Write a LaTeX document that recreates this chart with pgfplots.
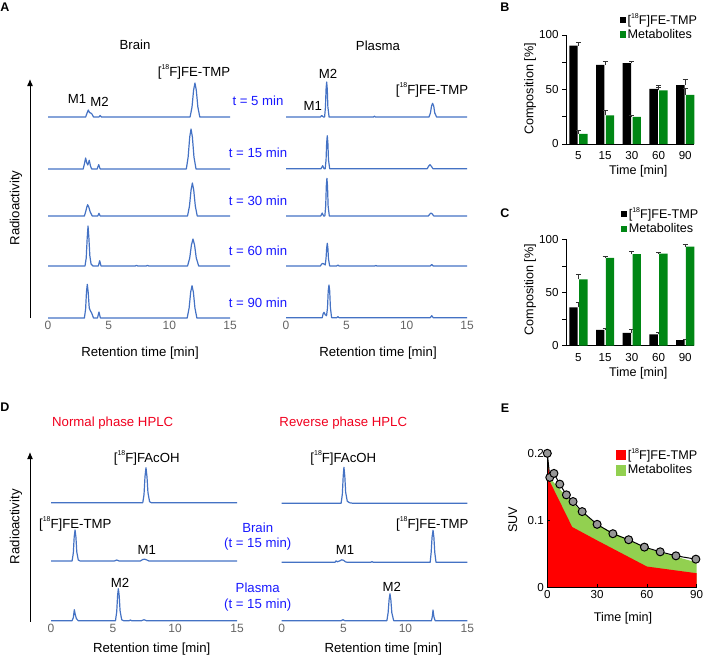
\documentclass[border=0pt]{standalone}
\usepackage{pgfplots}
\pgfplotsset{compat=1.18}
\usepackage{fontspec}
\setmainfont{Liberation Sans}
\usetikzlibrary{arrows.meta}
\definecolor{tb}{RGB}{68,114,196}
\definecolor{tgray}{RGB}{100,100,100}
\definecolor{lblue}{RGB}{25,25,255}
\definecolor{lred}{RGB}{240,0,30}
\definecolor{bgreen}{RGB}{0,135,20}
\definecolor{lgreen}{RGB}{146,208,80}
\definecolor{mgray}{RGB}{150,150,150}
\newcommand{\fs}{\fontsize{13.2}{15.8}\selectfont}
\newcommand{\fb}{\fontsize{12.6}{15}\selectfont}
\newcommand{\ft}{\fontsize{12}{14}\selectfont}
\newcommand{\fbt}{\fontsize{11.6}{14}\selectfont}
\newcommand{\F}{[\raisebox{0.5em}{\fontsize{7}{8}\selectfont 18}F]}
\pgfplotsset{
 every axis/.append style={/pgf/number format/assume math mode=true},
 trace/.style={anchor=south west, scale only axis, width=182pt, height=45pt, xmin=0, xmax=15, ymin=0, ymax=45, clip=false, hide axis},
 tracebot/.style={anchor=south west, scale only axis, width=182pt, height=45pt, xmin=0, xmax=15, ymin=0, ymax=45, clip=false, axis line style={draw=none}, ytick=\empty, xtick={0,5,10,15}, major tick length=0pt, tick label style={font=\ft, text=tgray}},
 tr/.style={tb, line width=1.2pt, line join=round},
 barax/.style={anchor=south west, scale only axis, width=128pt, xmin=-0.464, xmax=4.33, ymin=0, ymax=100,
   axis x line*=bottom, axis y line*=left, xtick={0,1,2,3,4}, xticklabels={5,15,30,60,90},
   ytick={0,50,100}, minor ytick={25,75}, tick align=outside, major tick length=4pt, minor tick length=4pt,
   x tick style={draw=none}, tick style={line width=0.8pt, black}, tick label style={font=\fbt}, clip=false, axis line style={line width=1pt},
   legend style={draw=none, fill=none, inner sep=0pt, font=\fb, cells={anchor=west}, row sep=-1pt, anchor=north west}},
 ebar/.style={error bars/.cd, y dir=plus, y explicit, error bar style={line width=0.8pt, black!80}, error mark options={rotate=90, mark size=2.5pt, line width=0.8pt, black!80}},
}
\begin{document}
\begin{tikzpicture}
\useasboundingbox (0,0) rectangle (708pt,-659pt);
% ---------------- Panel A ----------------
\node[font=\bfseries\fontsize{12.5}{14}\selectfont] at (5pt,-7pt) {A};
\node[font=\fs] at (135pt,-45pt) {Brain};
\node[font=\fs] at (378pt,-46pt) {Plasma};
\draw[line width=1pt,-{Latex[length=7pt,width=6pt]}] (30pt,-318pt) -- (30pt,-79pt);
\node[font=\fs, rotate=90] at (16pt,-208pt) {Radioactivity};
% brain traces
\begin{axis}[trace, at={(48pt,-117pt)}]
\addplot[tr] coordinates {(0,0)(3.1,0)(3.22,4)(3.32,7)(3.42,4.5)(3.52,4)(3.62,3)(3.75,0)(4.2,0)(4.3,1.5)(4.4,0)(11.71,0)(11.87,10)(12.0,27)(12.11,34)(12.22,27)(12.35,10)(12.51,0)(15,0)};
\end{axis}
\begin{axis}[trace, at={(48pt,-169pt)}]
\addplot[tr] coordinates {(0,0)(2.9,0)(3.0,5)(3.1,11)(3.2,6)(3.28,4)(3.4,8.7)(3.5,3)(3.6,0)(4.05,0)(4.18,4.4)(4.3,0)(11.4,0)(11.55,12)(11.68,32)(11.79,40)(11.9,32)(12.03,12)(12.2,0)(15,0)};
\end{axis}
\begin{axis}[trace, at={(48pt,-216pt)}]
\addplot[tr] coordinates {(0,0)(3.0,0)(3.12,5)(3.2,9)(3.27,11.3)(3.36,9)(3.48,4)(3.65,0)(4.1,0)(4.2,2.7)(4.3,0)(11.5,0)(11.66,10)(11.79,26)(11.9,33)(12.01,26)(12.14,10)(12.3,0)(15,0)};
\end{axis}
\begin{axis}[trace, at={(48pt,-266pt)}]
\addplot[tr] coordinates {(0,0)(3.05,0)(3.15,8)(3.23,28)(3.3,40)(3.37,28)(3.45,10)(3.55,2)(3.7,0)(4.15,0)(4.26,5.3)(4.37,0)(7.2,0)(7.3,0.7)(7.4,0)(8.1,0)(8.2,0.7)(8.3,0)(11.5,0)(11.68,8)(11.82,21)(11.95,27)(12.08,21)(12.22,8)(12.42,0)(15,0)};
\end{axis}
\begin{axis}[tracebot, at={(48pt,-318pt)}]
\addplot[tr] coordinates {(0,0)(3.0,0)(3.1,9)(3.17,26)(3.24,33.7)(3.31,26)(3.4,10)(3.5,7)(3.6,5)(3.75,0)(4.08,0)(4.2,6)(4.32,0)(11.47,0)(11.63,10)(11.76,26)(11.87,32.3)(11.98,26)(12.11,10)(12.27,0)(15,0)};
\end{axis}
% plasma traces
\begin{axis}[trace, width=181pt, at={(286pt,-117pt)}]
\addplot[tr] coordinates {(0,0)(2.85,0)(2.96,1.5)(3.1,0)(3.2,0)(3.27,10)(3.32,28)(3.37,35)(3.42,28)(3.47,10)(3.57,0)(7.25,0)(7.33,0.8)(7.41,0)(11.85,0)(11.97,4)(12.06,11)(12.15,13.7)(12.24,11)(12.33,4)(12.48,0)(15,0)};
\end{axis}
\begin{axis}[trace, width=181pt, at={(286pt,-168.7pt)}]
\addplot[tr] coordinates {(0,0)(2.9,0)(3.04,3)(3.15,0)(3.25,0)(3.32,9)(3.37,26)(3.42,33)(3.47,26)(3.52,9)(3.62,0)(11.7,0)(11.82,2.5)(11.93,4)(12.04,2.5)(12.18,0)(15,0)};
\end{axis}
\begin{axis}[trace, width=181pt, at={(286pt,-216pt)}]
\addplot[tr] coordinates {(0,0)(2.88,0)(3.0,3)(3.12,0)(3.22,0)(3.29,10)(3.34,30)(3.39,37.7)(3.44,30)(3.49,10)(3.59,0)(11.8,0)(11.92,2)(12.02,3)(12.12,2)(12.25,0)(15,0)};
\end{axis}
\begin{axis}[trace, width=181pt, at={(286pt,-266pt)}]
\addplot[tr] coordinates {(0,0)(2.85,0)(2.95,2)(3.05,2.5)(3.15,2)(3.25,1)(3.32,8)(3.37,18)(3.42,22.7)(3.47,18)(3.52,7)(3.62,0)(4.2,0)(4.3,1)(4.4,0)(7.35,0)(7.45,0.5)(7.55,0)(11.95,0)(12.08,1.5)(12.2,0)(15,0)};
\end{axis}
\begin{axis}[tracebot, width=181pt, at={(286pt,-317.7pt)}]
\addplot[tr] coordinates {(0,0)(3.0,0)(3.08,4)(3.15,5.4)(3.25,3)(3.36,2)(3.44,10)(3.5,27)(3.56,32.7)(3.62,27)(3.68,10)(3.78,0)(4.2,0)(4.3,1)(4.4,0)(11.95,0)(12.08,2)(12.2,0)(15,0)};
\end{axis}
\node[font=\fs] at (194pt,-72pt) {\F FE-TMP};
\node[font=\fs] at (77pt,-99pt) {M1};
\node[font=\fs] at (99.5pt,-102pt) {M2};
\node[font=\fs] at (328pt,-74pt) {M2};
\node[font=\fs] at (312.7pt,-106pt) {M1};
\node[font=\fs] at (432pt,-90pt) {\F FE-TMP};
\node[font=\fs, text=lblue] at (258pt,-101pt) {t = 5 min};
\node[font=\fs, text=lblue] at (258pt,-152.3pt) {t = 15 min};
\node[font=\fs, text=lblue] at (258pt,-200.3pt) {t = 30 min};
\node[font=\fs, text=lblue] at (258pt,-250.7pt) {t = 60 min};
\node[font=\fs, text=lblue] at (258pt,-302.3pt) {t = 90 min};
\node[font=\fs] at (140pt,-353.3pt) {Retention time [min]};
\node[font=\fs] at (378pt,-353.3pt) {Retention time [min]};
% ---------------- Panel D ----------------
\node[font=\bfseries\fontsize{12.5}{14}\selectfont] at (5pt,-407.5pt) {D};
\node[font=\fs, text=lred] at (112.7pt,-422.7pt) {Normal phase HPLC};
\node[font=\fs, text=lred] at (343.3pt,-422.7pt) {Reverse phase HPLC};
\draw[line width=1pt,-{Latex[length=7pt,width=6pt]}] (30pt,-621.7pt) -- (30pt,-452pt);
\node[font=\fs, rotate=90] at (16pt,-526.7pt) {Radioactivity};
\begin{axis}[trace, width=186pt, at={(51pt,-502.7pt)}]
\addplot[tr] coordinates {(0,0)(7.4,0)(7.5,8)(7.58,26)(7.66,35)(7.74,26)(7.82,10)(7.95,1)(8.1,0)(15,0)};
\end{axis}
\begin{axis}[trace, width=186pt, at={(51pt,-561pt)}]
\addplot[tr] coordinates {(0,0)(1.7,0)(1.8,8)(1.87,24)(1.94,31)(2.01,24)(2.08,9)(2.2,1)(2.35,0)(5.1,0)(5.3,1)(5.5,0)(7.2,0)(7.4,1.5)(7.55,1.8)(7.7,1.2)(7.9,0)(15,0)};
\end{axis}
\begin{axis}[tracebot, width=186pt, at={(51pt,-620.7pt)}]
\addplot[tr] coordinates {(0,0)(1.7,0)(1.8,3)(1.88,11)(1.96,6)(2.05,2)(2.2,0)(5.2,0)(5.3,9)(5.37,25)(5.43,32)(5.5,25)(5.57,10)(5.7,1)(5.85,0)(6.3,0)(6.4,0.7)(6.5,0)(7.3,0)(7.5,1)(7.7,0)(15,0)};
\end{axis}
\begin{axis}[trace, width=185.6pt, at={(281.7pt,-503.3pt)}]
\addplot[tr] coordinates {(0,0)(4.8,0)(4.9,9)(4.97,27)(5.03,36)(5.1,27)(5.17,11)(5.3,2)(5.5,0.5)(5.8,0)(15,0)};
\end{axis}
\begin{axis}[trace, width=185.6pt, at={(281.7pt,-562.3pt)}]
\addplot[tr] coordinates {(0,0)(4.3,0)(4.4,1.5)(4.5,0.5)(4.7,1.5)(4.85,2.5)(5.0,2)(5.15,0.5)(5.3,0)(7.2,0)(7.3,0.8)(7.4,0)(12.0,0)(12.08,10)(12.15,25)(12.23,32)(12.3,25)(12.37,10)(12.47,0)(15,0)};
\end{axis}
\begin{axis}[tracebot, width=185.6pt, at={(281.7pt,-620.7pt)}]
\addplot[tr] coordinates {(0,0)(4.8,0)(4.95,1)(5.1,0)(8.5,0)(8.6,8)(8.68,21)(8.75,27)(8.82,21)(8.9,8)(9.05,0)(12.1,0)(12.17,4)(12.23,10.7)(12.3,4)(12.4,0)(15,0)};
\end{axis}
\node[font=\fs] at (146.7pt,-457.7pt) {\F FAcOH};
\node[font=\fs] at (343.3pt,-457.7pt) {\F FAcOH};
\node[font=\fs] at (75.3pt,-524pt) {\F FE-TMP};
\node[font=\fs] at (432.3pt,-524pt) {\F FE-TMP};
\node[font=\fs] at (146.7pt,-550pt) {M1};
\node[font=\fs] at (345pt,-550pt) {M1};
\node[font=\fs] at (120pt,-583.3pt) {M2};
\node[font=\fs] at (391.7pt,-586.7pt) {M2};
\node[font=\fs, text=lblue] at (257.7pt,-527.3pt) {Brain};
\node[font=\fs, text=lblue] at (257.7pt,-544pt) {(t = 15 min)};
\node[font=\fs, text=lblue] at (257.7pt,-587.7pt) {Plasma};
\node[font=\fs, text=lblue] at (257.7pt,-605pt) {(t = 15 min)};
\node[font=\fs] at (151.7pt,-649.3pt) {Retention time [min]};
\node[font=\fs] at (383.3pt,-649.3pt) {Retention time [min]};
% ---------------- Panel B ----------------
\node[font=\bfseries\fontsize{12.5}{14}\selectfont] at (505pt,-7pt) {B};
\begin{axis}[barax, at={(566pt,-144pt)}, height=109pt, legend style={at={(0.42,1.22)}}]
\addplot[ybar, bar width=8.4pt, bar shift=-4.9pt, fill=black, draw=none, forget plot, ebar] coordinates {(0,90.2)+-(0,3.1) (1,72.5)+-(0,3) (2,74.3)+-(0,1.7) (3,50.5)+-(0,3) (4,54)+-(0,5.6)};
\addplot[ybar, bar width=8.4pt, bar shift=4.9pt, fill=bgreen, draw=none, forget plot, ebar] coordinates {(0,9.2)+-(0,3) (1,26.3)+-(0,4.6) (2,24.8)+-(0,1.5) (3,49.2)+-(0,2.8) (4,45)+-(0,5.8)};
\addlegendimage{legend image code/.code={\fill[black] (0pt,-2.6pt) rectangle (5.2pt,2.6pt);}}
\addlegendentry{\F FE-TMP}
\addlegendimage{legend image code/.code={\fill[bgreen] (0pt,-2.6pt) rectangle (5.2pt,2.6pt);}}
\addlegendentry{Metabolites}
\end{axis}
\node[font=\fb, rotate=90] at (530pt,-89pt) {Composition [\%]};
\node[font=\fb] at (638.3pt,-171.7pt) {Time [min]};
% ---------------- Panel C ----------------
\node[font=\bfseries\fontsize{12.5}{14}\selectfont] at (505pt,-213pt) {C};
\begin{axis}[barax, at={(566pt,-345.7pt)}, height=106.4pt, legend style={at={(0.43,1.32)}}]
\addplot[ybar, bar width=8.4pt, bar shift=-4.9pt, fill=black, draw=none, forget plot, ebar] coordinates {(0,36)+-(0,4.4) (1,14.9)+-(0,0.9) (2,12.1)+-(0,2.8) (3,10.6)+-(0,2.1) (4,5.3)+-(0,0.9)};
\addplot[ybar, bar width=8.4pt, bar shift=4.9pt, fill=bgreen, draw=none, forget plot, ebar] coordinates {(0,62.4)+-(0,5) (1,82.6)+-(0,0.9) (2,86)+-(0,2.5) (3,86.6)+-(0,1) (4,93.2)+-(0,2.1)};
\addlegendimage{legend image code/.code={\fill[black] (0pt,-2.6pt) rectangle (5.2pt,2.6pt);}}
\addlegendentry{\F FE-TMP}
\addlegendimage{legend image code/.code={\fill[bgreen] (0pt,-2.6pt) rectangle (5.2pt,2.6pt);}}
\addlegendentry{Metabolites}
\end{axis}
\node[font=\fb, rotate=90] at (530pt,-289.7pt) {Composition [\%]};
\node[font=\fb] at (638.3pt,-373.3pt) {Time [min]};
% ---------------- Panel E ----------------
\node[font=\bfseries\fontsize{12.5}{14}\selectfont] at (505pt,-407.7pt) {E};
\begin{axis}[anchor=south west, at={(547.3pt,-587.3pt)}, scale only axis, width=149.4pt, height=134pt,
  xmin=0, xmax=90, ymin=0, ymax=0.2, axis lines*=left, axis on top, clip=false,
  xtick={0,30,60,90}, ytick={0,0.1,0.2}, tick align=inside, major tick length=3pt,
  tick style={line width=0.8pt, black}, axis line style={line width=1pt},
  yticklabel style={/pgf/number format/fixed}, tick label style={font=\fbt},
  legend style={draw=none, fill=none, inner sep=0pt, font=\fb, cells={anchor=west}, row sep=0pt, anchor=north west, at={(0.46,1.055)}}]
\addplot[fill=lgreen, draw=none, forget plot] coordinates {(0,0)(0,0.2)(1.5,0.163)(15,0.126)(30,0.093)(60,0.058)(90,0.037)(90,0)} \closedcycle;
\addplot[fill=red, draw=none, forget plot] coordinates {(0,0)(0,0.2)(1.5,0.158)(15,0.09)(30,0.07)(60,0.031)(90,0.021)(90,0)} \closedcycle;
\addplot[black, line width=1pt, mark=*, mark size=4pt, mark options={fill=mgray, draw=black, line width=1pt}, forget plot] coordinates {(0,0.2)(1.5,0.164)(4,0.17)(7.5,0.154)(11.5,0.138)(15.5,0.128)(21,0.113)(30,0.094)(39.5,0.08)(49,0.071)(58.5,0.06)(68,0.053)(77.5,0.047)(89.5,0.042)};
\addlegendimage{legend image code/.code={\fill[red] (0pt,-4.6pt) rectangle (9.2pt,4.6pt);}}
\addlegendentry{\F FE-TMP}
\addlegendimage{legend image code/.code={\fill[lgreen] (0pt,-4.6pt) rectangle (9.2pt,4.6pt);}}
\addlegendentry{Metabolites}
\end{axis}
\node[font=\fb, rotate=90] at (512.7pt,-520pt) {SUV};
\node[font=\fb] at (623pt,-618.3pt) {Time [min]};
\end{tikzpicture}
\end{document}
